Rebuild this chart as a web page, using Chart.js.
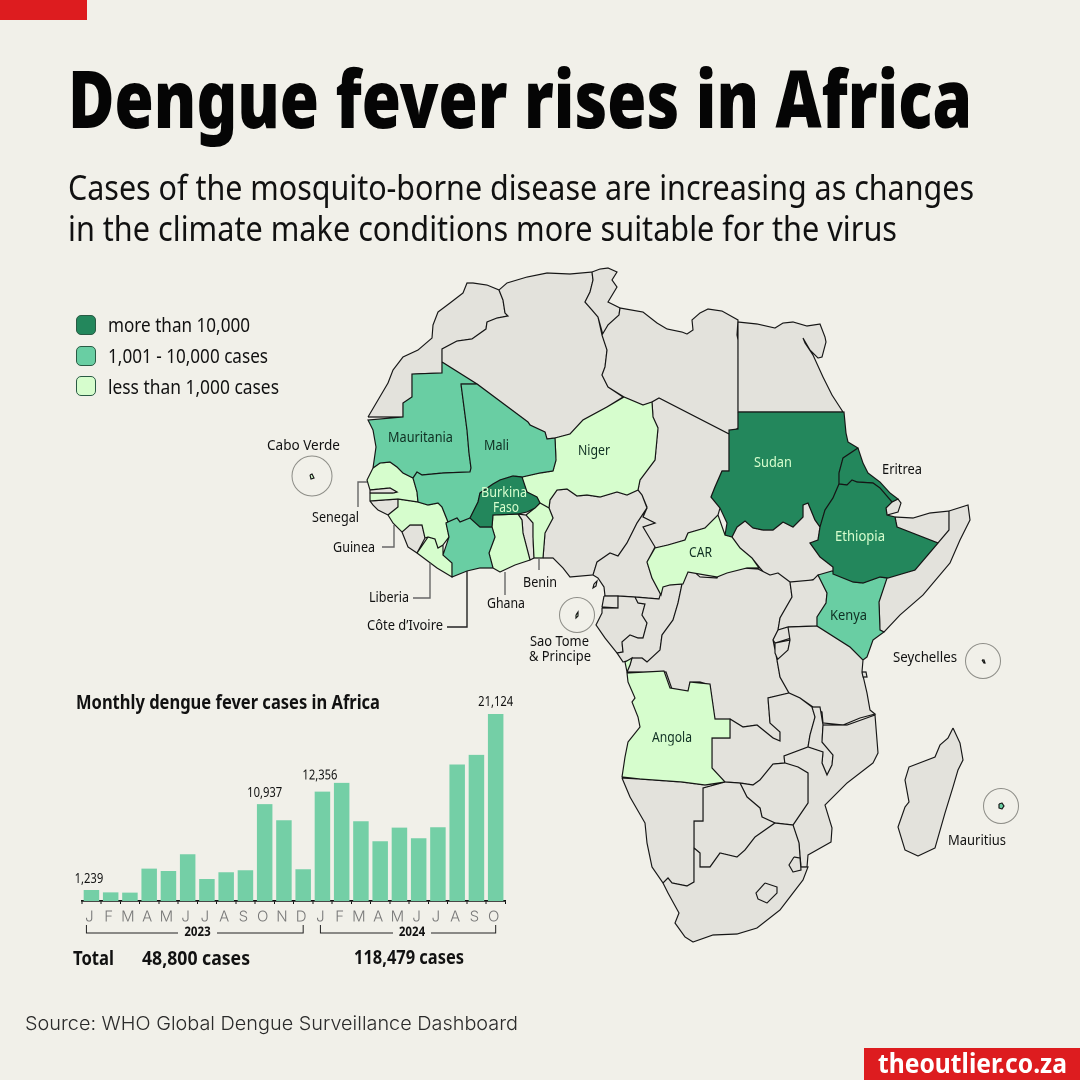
<!DOCTYPE html>
<html><head><meta charset="utf-8">
<script src="https://cdn.jsdelivr.net/npm/chart.js@4"></script>
<style>
html,body{margin:0;padding:0;background:#f1f0e9;width:1080px;height:1080px;overflow:hidden}
#page{position:relative;width:1080px;height:1080px;overflow:hidden}
#map,#bars{position:absolute}
.t{position:absolute;white-space:nowrap;transform-origin:left center;line-height:1;color:#111}
.sw{position:absolute;left:76px;width:18px;height:18px;border-radius:5px;border:1px solid #2a5a44}
</style></head><body><div id="page">
<div style="position:absolute;left:0;top:0;width:87px;height:20px;background:#dd1c1f"></div>
<div style="position:absolute;left:864px;top:1048px;width:216px;height:32px;background:#dd1c1f"></div>
<canvas id="map" width="1080" height="1080"></canvas><canvas id="bars" width="470" height="260"></canvas>
</div>
<script>
// ---------- bar chart data ----------
const months = ['J','F','M','A','M','J','J','A','S','O','N','D','J','F','M','A','M','J','J','A','S','O'];
const cases = [1239,980,943,3658,3394,5280,2489,3243,3470,10937,9126,3583,12356,13350,9010,6750,8295,7090,8330,15420,16510,21124];
const labelledBars = [0,9,12,21];

// ---------- map data: country outlines in map units ----------
const morocco=[[368,417],[378,400],[388,383],[393,370],[403,357],[418,350],[432,338],[433,325],[438,312],[450,303],[463,293],[467,283],[473,283],[487,285],[499,290],[503,300],[505,313],[508,316],[497,318],[487,322],[486,329],[472,339],[457,341],[442,349],[442,362],[442,373],[412,374],[412,397],[403,403],[403,417]];
const algeria=[[499,290],[507,283],[527,277],[547,273],[570,274],[592,272],[593,280],[590,292],[585,302],[592,310],[598,317],[602,335],[607,350],[605,367],[602,375],[608,387],[623,397],[607,407],[583,420],[570,434],[555,438],[547,439],[545,432],[530,425],[528,422],[477,384],[442,362],[442,349],[457,341],[472,339],[486,329],[487,322],[497,318],[508,316],[505,313],[503,300]];
const tunisia=[[592,272],[600,269],[608,268],[617,272],[612,280],[617,287],[608,302],[620,308],[619,315],[608,325],[603,335],[598,317],[592,310],[585,302],[590,292],[593,280]];
const libya=[[620,308],[643,312],[657,323],[667,329],[682,332],[687,334],[693,330],[692,320],[700,313],[708,309],[722,311],[738,320],[737,335],[738,340],[738,428],[729,434],[659,398],[652,402],[643,405],[624,397],[608,387],[602,375],[605,367],[607,350],[602,335],[608,325],[619,315]];
const egypt=[[738,322],[757,324],[775,328],[783,323],[793,322],[807,326],[820,324],[825,337],[826,342],[822,357],[818,358],[810,350],[803,338],[805,343],[813,355],[823,377],[832,395],[843,412],[738,412]];
const djibouti=[[892,502],[898,499],[901,503],[898,512],[887,515],[886,508]];
const somaliland=[[895,517],[913,518],[930,513],[949,511],[949,530],[938,543],[897,527]];
const somalia=[[949,511],[968,505],[970,520],[960,540],[950,563],[923,595],[900,615],[884,632],[880,630],[879,602],[887,578],[915,570],[938,543],[949,530]];
const southSudan=[[732,537],[737,527],[745,521],[753,528],[763,530],[773,530],[783,522],[793,527],[803,517],[803,505],[808,503],[815,520],[820,527],[818,540],[810,543],[820,557],[833,567],[833,574],[818,575],[815,579],[803,582],[790,583],[780,575],[768,577],[760,568],[752,558],[740,548]];
const chad=[[659,398],[729,434],[729,471],[722,471],[715,487],[711,497],[720,508],[718,515],[705,528],[688,533],[685,540],[668,545],[655,548],[643,527],[655,523],[643,517],[647,507],[642,495],[638,490],[640,480],[655,460],[658,428],[653,417],[652,402]];
const nigeria=[[543,558],[553,558],[563,568],[570,577],[593,575],[597,562],[610,553],[618,556],[627,543],[637,523],[647,508],[642,495],[638,490],[627,495],[617,492],[600,497],[587,495],[577,496],[567,489],[557,490],[550,500],[549,508],[553,518],[545,533]];
const togo=[[518,514],[526,515],[533,523],[533,537],[534,558],[530,560],[523,533],[522,520]];
const sierraLeone=[[402,532],[410,525],[422,525],[425,538],[417,553],[408,547]];
const guineaBissau=[[370,501],[398,499],[398,507],[388,515],[378,510],[373,505]];
const gambia=[[370,490],[380,489],[390,488],[397,492],[393,493],[380,493],[370,493]];
const cameroon=[[593,575],[597,562],[610,553],[618,556],[627,543],[637,523],[647,508],[643,517],[655,523],[643,527],[655,547],[647,562],[652,578],[661,595],[659,599],[635,597],[618,596],[605,596],[604,587],[598,578]];
const eqGuinea=[[604,596],[618,596],[618,608],[602,607]];
const gabon=[[602,608],[618,608],[618,596],[635,597],[638,603],[645,604],[642,615],[647,623],[643,638],[638,638],[630,635],[622,642],[623,652],[617,653],[605,638],[596,625],[602,613]];
const congo=[[635,597],[659,599],[661,592],[663,585],[682,584],[678,603],[673,620],[662,635],[660,650],[647,662],[642,658],[630,660],[623,662],[617,653],[623,652],[622,642],[630,635],[638,638],[643,638],[647,623],[642,615],[645,604],[638,603]];
const drc=[[682,584],[685,572],[692,570],[700,577],[717,578],[720,572],[743,568],[758,569],[770,575],[778,573],[790,582],[792,597],[780,618],[778,630],[773,640],[777,660],[780,677],[789,693],[768,698],[770,723],[780,732],[780,741],[773,738],[757,725],[743,727],[730,719],[715,720],[710,685],[700,682],[690,682],[688,692],[673,692],[666,672],[630,672],[627,672],[630,665],[632,658],[642,658],[647,662],[660,650],[662,635],[673,620],[678,603]];
const uganda=[[790,582],[813,580],[818,575],[827,593],[826,603],[817,617],[817,626],[788,627],[778,630],[780,618],[792,597]];
const rwanda=[[778,630],[788,627],[791,638],[775,643],[773,640]];
const burundi=[[775,643],[790,640],[788,650],[778,660],[775,653]];
const tanzania=[[788,627],[817,626],[850,647],[863,660],[862,672],[864,680],[867,693],[870,710],[875,714],[860,718],[843,725],[823,723],[822,712],[813,707],[800,698],[789,693],[780,677],[777,660],[788,650],[790,640]];
const zanzibar=[[862,672],[866,672],[867,677],[863,677]];
const zambia=[[730,719],[743,727],[757,725],[773,738],[780,741],[780,732],[770,723],[768,698],[789,693],[800,698],[812,707],[815,717],[810,735],[808,747],[784,756],[785,763],[773,764],[760,780],[753,785],[740,783],[725,782],[712,768],[712,738],[730,738]];
const malawi=[[812,707],[820,707],[823,725],[822,742],[833,755],[832,765],[827,775],[822,763],[823,752],[808,747],[810,735],[815,717]];
const mozambique=[[823,725],[847,725],[875,715],[878,753],[873,763],[847,783],[825,805],[832,828],[831,842],[808,855],[807,867],[801,867],[799,843],[793,825],[808,803],[808,773],[798,767],[785,765],[784,756],[808,747],[823,752],[822,763],[827,775],[832,765],[833,755],[822,742]];
const zimbabwe=[[740,783],[753,785],[760,780],[773,764],[785,763],[798,767],[808,773],[808,803],[793,825],[775,823],[762,817],[760,808],[747,797]];
const botswana=[[703,788],[725,782],[740,783],[747,797],[760,808],[762,817],[775,823],[755,837],[745,850],[737,857],[720,853],[710,867],[700,867],[700,853],[694,848],[694,821],[703,821]];
const namibia=[[622,778],[640,779],[682,782],[705,785],[725,782],[703,788],[703,821],[694,821],[694,882],[687,886],[672,883],[668,878],[663,883],[652,867],[647,843],[645,823],[630,797]];
const southAfrica=[[663,883],[668,878],[672,883],[687,886],[694,882],[694,848],[700,853],[700,867],[710,867],[720,853],[737,857],[745,850],[755,837],[775,823],[793,825],[799,843],[800,857],[801,867],[808,867],[803,880],[793,893],[780,910],[757,928],[737,934],[713,935],[693,942],[685,937],[675,923],[679,913],[668,893]];
const eswatini=[[794,857],[800,858],[801,870],[793,872],[789,865]];
const lesotho=[[765,883],[777,887],[777,893],[767,903],[758,899],[756,893]];
const madagascar=[[953,728],[960,743],[963,760],[958,770],[953,787],[945,813],[935,848],[918,856],[905,850],[898,827],[905,807],[909,802],[905,780],[909,767],[935,757],[940,745],[948,738]];
const saoTomeMain=[[594,584],[597,581],[596,586],[593,588]];

const sudan=[[738,412],[844,412],[846,433],[848,442],[858,448],[843,458],[839,473],[839,484],[833,498],[825,510],[820,527],[815,520],[808,503],[803,505],[803,517],[793,527],[783,522],[773,530],[763,530],[753,528],[745,521],[737,527],[732,537],[725,535],[727,523],[720,508],[711,497],[715,487],[722,471],[729,471],[729,430],[738,429]];
const eritrea=[[858,448],[863,463],[868,473],[880,482],[890,493],[898,499],[892,502],[880,488],[873,483],[857,482],[852,480],[847,485],[839,484],[839,473],[843,458]];
const ethiopia=[[839,484],[847,485],[852,480],[857,482],[873,483],[880,488],[892,502],[886,508],[887,515],[895,517],[897,527],[938,543],[915,570],[888,578],[880,577],[863,583],[853,582],[833,574],[833,567],[820,557],[810,543],[818,540],[820,527],[825,510],[833,498]];
const burkinaFaso=[[493,484],[500,480],[513,476],[522,477],[527,492],[537,497],[540,503],[535,508],[527,512],[518,514],[493,515],[492,527],[480,527],[470,518],[478,502],[480,493]];

const mauritania=[[442,362],[477,384],[461,384],[467,430],[469,453],[471,468],[470,472],[443,473],[422,475],[417,472],[413,478],[403,473],[397,467],[390,462],[380,463],[373,468],[376,447],[373,430],[368,420],[403,417],[403,403],[412,397],[412,374],[442,373]];
const mali=[[461,384],[477,384],[528,422],[530,425],[545,432],[547,439],[555,438],[556,460],[553,471],[540,473],[522,477],[513,476],[500,480],[493,484],[480,493],[478,502],[470,518],[460,522],[457,518],[448,522],[446,517],[442,507],[438,503],[428,505],[418,502],[417,492],[413,478],[417,472],[422,475],[443,473],[470,472],[471,468],[469,453],[467,430]];
const coteDIvoire=[[448,522],[457,518],[460,522],[470,518],[480,527],[492,527],[495,537],[489,553],[493,568],[480,568],[467,571],[452,577],[452,563],[443,555],[449,537],[446,523]];
const kenya=[[818,575],[832,571],[853,582],[863,583],[880,577],[887,578],[879,602],[880,630],[884,632],[873,640],[867,657],[863,660],[850,647],[817,626],[817,617],[826,603],[827,593]];
const mauritiusIsland=[[999,804],[1002,803],[1004,806],[1002,809],[999,808]];

const niger=[[555,438],[570,434],[583,420],[607,407],[624,397],[643,405],[652,402],[653,417],[658,428],[655,460],[640,480],[638,490],[627,495],[617,492],[600,497],[587,495],[577,496],[567,489],[557,490],[550,500],[549,508],[540,503],[537,497],[527,492],[522,477],[540,473],[553,471],[556,460]];
const benin=[[540,503],[549,508],[553,518],[545,533],[543,558],[534,558],[533,537],[533,523],[526,515],[535,508]];
const ghana=[[493,515],[518,514],[522,520],[523,533],[530,560],[515,565],[500,572],[493,568],[489,553],[495,537],[492,527]];
const liberia=[[417,553],[428,537],[435,539],[438,548],[443,545],[443,555],[452,563],[452,577],[437,568]];
const guinea=[[388,515],[398,507],[398,499],[418,502],[428,505],[438,503],[442,507],[446,517],[448,522],[446,523],[449,537],[443,545],[438,548],[435,539],[428,537],[425,538],[422,525],[410,525],[402,532],[393,523]];
const senegal=[[373,468],[380,463],[390,462],[397,467],[403,473],[413,478],[417,492],[418,502],[398,499],[370,501],[370,493],[380,493],[393,493],[397,492],[390,488],[380,489],[370,490],[367,480]];
const car=[[647,562],[655,548],[668,545],[685,540],[688,533],[705,528],[718,515],[725,535],[732,537],[740,548],[752,558],[759,568],[747,568],[727,573],[717,577],[705,575],[688,572],[683,584],[670,585],[663,587],[661,595],[652,578]];
const angola=[[627,673],[664,671],[670,688],[688,691],[690,682],[710,684],[715,719],[730,719],[730,738],[712,738],[712,768],[725,782],[705,785],[682,782],[640,779],[622,777],[625,757],[628,742],[640,727],[638,717],[632,702],[635,698],[628,682]];
const cabinda=[[625,662],[632,658],[630,665],[627,672]];
const caboVerdeIsland=[[310,475],[312,474],[314,478],[311,479]];
const saoTomeIsland=[[576,615],[578,612],[578,616],[576,618]];
const seychellesIsland=[[982,660],[984,660],[985,663],[984,663]];

const noData=[morocco,algeria,tunisia,libya,egypt,djibouti,somaliland,somalia,southSudan,chad,nigeria,togo,sierraLeone,guineaBissau,cameroon,eqGuinea,gabon,congo,drc,uganda,rwanda,burundi,tanzania,zanzibar,zambia,malawi,mozambique,zimbabwe,botswana,namibia,southAfrica,eswatini,lesotho,madagascar,saoTomeMain];
const highBand=[sudan,eritrea,ethiopia,burkinaFaso];
const midBand=[mauritania,mali,coteDIvoire,kenya,mauritiusIsland];
const lowBand=[niger,benin,ghana,liberia,guinea,senegal,car,angola,cabinda,caboVerdeIsland,saoTomeIsland,seychellesIsland];
const smallEnclaves=[gambia];

const islandRingCentres=[[312,476],[577,615],[983,661],[1001,806]];
const leaderLines=[
 {pts:[[367,482],[358,482],[358,507]],c:'#666'},{pts:[[394,525],[394,547],[382,547]],c:'#666'},
 {pts:[[430,563],[430,598],[413,598]],c:'#666'},{pts:[[467,571],[467,627],[447,627]],c:'#222'},
 {pts:[[505,572],[505,595]],c:'#666'},{pts:[[539,558],[539,570]],c:'#666'}];

// ---------- text ----------
const BODY='"Noto Sans"',HEAD='"Noto Sans"';
const texts=[
 ['Dengue fever rises in Africa',68,972,96.5,79,900,HEAD,'#050505'],
 ['Cases of the mosquito-borne disease are increasing as changes',68,974,185.5,35,400,BODY,'#111'],
 ['in the climate make conditions more suitable for the virus',68,897,227,35,400,BODY,'#111'],
 ['more than 10,000',108,250,325,19,400,BODY,'#111'],
 ['1,001 - 10,000 cases',108,268,356,19,400,BODY,'#111'],
 ['less than 1,000 cases',108,279,387,19,400,BODY,'#111'],
 ['Monthly dengue fever cases in Africa',76,380,702,20,700,BODY,'#111'],
 ['Total',73,114,958,19,700,BODY,'#111'],
 ['48,800 cases',142,250,958,19,700,BODY,'#111'],
 ['118,479 cases',354,464,957,19,700,BODY,'#111'],
 ['Mauritania',388,453,436,15,400,BODY,'#0f2f22'],
 ['Mali',484,509,444,15,400,BODY,'#0f2f22'],
 ['Niger',578,610,449,15,400,BODY,'#0f2f22'],
 ['Burkina',481,527,491,15,400,BODY,'#d6fdcd'],
 ['Faso',493,519,506,15,400,BODY,'#d6fdcd'],
 ['Sudan',754,792,461,15,400,BODY,'#d6fdcd'],
 ['Ethiopia',835,885,535,15,400,BODY,'#d6fdcd'],
 ['Eritrea',882,922,468,15,400,BODY,'#111'],
 ['CAR',689,712,551,15,400,BODY,'#0f2f22'],
 ['Kenya',830,867,614,15,400,BODY,'#0f2f22'],
 ['Angola',652,692,736,15,400,BODY,'#0f2f22'],
 ['Cabo Verde',267,340,444,15,400,BODY,'#111'],
 ['Senegal',312,359,516,15,400,BODY,'#111'],
 ['Guinea',333,375,546,15,400,BODY,'#111'],
 ['Liberia',369,409,596,15,400,BODY,'#111'],
 ['Côte d’Ivoire',367,443,624,15,400,BODY,'#111'],
 ['Ghana',487,525,602,15,400,BODY,'#111'],
 ['Benin',523,557,581,15,400,BODY,'#111'],
 ['Sao Tome',530,589,640,15,400,BODY,'#111'],
 ['& Principe',529,591,655,15,400,BODY,'#111'],
 ['Seychelles',893,957,656,15,400,BODY,'#111'],
 ['Mauritius',948,1006,839,15,400,BODY,'#111'],
 ['Source: WHO Global Dengue Surveillance Dashboard',25,518,1023,19,300,'Inter','#2b2b2b'],
 ['theoutlier.co.za',878,1067,1063,26,700,BODY,'#fff']
];
const swatches=[['#23875c',315],['#69cea3',346],['#d6fdcd',376]];

const page=document.getElementById('page');
swatches.forEach(([c,y])=>{const d=document.createElement('div');d.className='sw';d.style.background=c;d.style.top=y+'px';page.appendChild(d);});
texts.forEach(([s,x0,x1,yc,size,w,fam,col])=>{
  const e=document.createElement('div');e.className='t';e.textContent=s;
  e.style.cssText+=`left:${x0}px;top:${yc}px;font:${w} ${size}px/1 ${fam};color:${col}`;
  page.appendChild(e);
  const mw=e.getBoundingClientRect().width;
  e.style.transform=`translateY(-50%) scaleX(${(x1-x0)/mw})`;
});

// ---------- map chart ----------
const asPts=a=>a.map(([x,y])=>({x,y}));
const poly=(a,fillC)=>({data:asPts(a.concat([a[0]])),showLine:true,fill:'shape',backgroundColor:fillC,borderColor:'#151515',borderWidth:1.15,pointRadius:0,tension:0});
const mapSets=[];
noData.forEach(a=>mapSets.push(poly(a,'#e3e2dc')));
lowBand.forEach(a=>mapSets.push(poly(a,'#d6fdcd')));
smallEnclaves.forEach(a=>mapSets.push(poly(a,'#e3e2dc')));
midBand.forEach(a=>mapSets.push(poly(a,'#69cea3')));
highBand.forEach(a=>mapSets.push(poly(a,'#23875c')));
leaderLines.forEach(l=>mapSets.push({data:asPts(l.pts),showLine:true,fill:false,borderColor:l.c,borderWidth:1.4,pointRadius:0,tension:0}));
mapSets.push({data:asPts(islandRingCentres.slice(0,1)),showLine:false,pointRadius:20,pointBorderColor:'#8c8c86',pointBorderWidth:1,pointBackgroundColor:'rgba(0,0,0,0)'});
mapSets.push({data:asPts(islandRingCentres.slice(1)),showLine:false,pointRadius:17.5,pointBorderColor:'#8c8c86',pointBorderWidth:1,pointBackgroundColor:'rgba(0,0,0,0)'});
mapSets.reverse(); // Chart.js paints the first dataset last

const mapCv=document.getElementById('map');
mapCv.style.cssText='left:0;top:0;width:1080px;height:1080px';
new Chart(mapCv,{type:'scatter',data:{datasets:mapSets},options:{
 responsive:false,animation:false,devicePixelRatio:2,
 layout:{padding:0,autoPadding:false},
 plugins:{legend:{display:false},tooltip:{enabled:false}},
 scales:{x:{type:'linear',min:0,max:1080,display:false},y:{type:'linear',min:0,max:1080,reverse:true,display:false}}
}});

// ---------- bar chart ----------
const valueLabels={
 id:'valueLabels',
 afterDatasetsDraw(ch){
  const c=ch.ctx,m=ch.getDatasetMeta(0);
  c.save();c.font='400 14px "Noto Sans"';c.fillStyle='#111';c.textAlign='center';c.textBaseline='middle';
  labelledBars.forEach(i=>{
   const b=m.data[i];
   const lift=i===12?16:(i===21?12:11);
   const nudge=i===21||i===9?0:-2.5;
   const s=cases[i].toLocaleString('en-US');
   c.save();c.translate(b.x+nudge,b.y-lift);c.scale(0.8,1);c.fillText(s,0,0);c.restore();
  });
  c.restore();
 }
};
const yearBrackets={
 id:'yearBrackets',
 afterDraw(ch){
  const c=ch.ctx,x=ch.scales.x;
  const base=ch.scales.y.getPixelForValue(0);
  const top=base+24,bot=base+32;
  const groups=[['2023',x.getPixelForTick(0)-5,x.getPixelForTick(11),178-60,217-60],['2024',x.getPixelForTick(12)-2,x.getPixelForTick(21),393-60,431-60]];
  c.save();c.strokeStyle='#222';c.lineWidth=1;
  groups.forEach(([yr,a,b,g0,g1])=>{
   c.beginPath();c.moveTo(a,top);c.lineTo(a,bot);c.lineTo(g0,bot);c.moveTo(g1,bot);c.lineTo(b,bot);c.lineTo(b,top);c.stroke();
   c.font='700 13.5px "Noto Sans"';c.fillStyle='#111';c.textAlign='center';c.textBaseline='middle';
   c.save();c.translate((g0+g1)/2,bot-1);c.scale(0.85,1);c.fillText(yr,0,0);c.restore();
  });
  c.restore();
 }
};
const barCv=document.getElementById('bars');
barCv.style.cssText='left:60px;top:690px;width:470px;height:260px';
new Chart(barCv,{type:'bar',data:{labels:months.map((m,i)=>i+':'+m),datasets:[{data:cases,backgroundColor:'#74cfa6',barPercentage:0.805,categoryPercentage:1,borderWidth:0}]},
 options:{responsive:false,animation:false,devicePixelRatio:2,
  layout:{padding:{left:21.8,right:24.7,top:24,bottom:0}},
  plugins:{legend:{display:false},tooltip:{enabled:false}},
  scales:{
   y:{display:false,min:0,max:21124},
   x:{afterFit(s){s.height=49;},
      border:{color:'#111',width:1.8},
      grid:{drawOnChartArea:false,color:'#111',tickLength:3,tickWidth:1},
      ticks:{autoSkip:false,maxRotation:0,padding:4,labelOffset:-2,color:'#777',font:{family:'Inter',size:15,weight:300},callback(v,i){return months[i];}}}
  }
 },plugins:[valueLabels,yearBrackets]});
</script></body></html>
